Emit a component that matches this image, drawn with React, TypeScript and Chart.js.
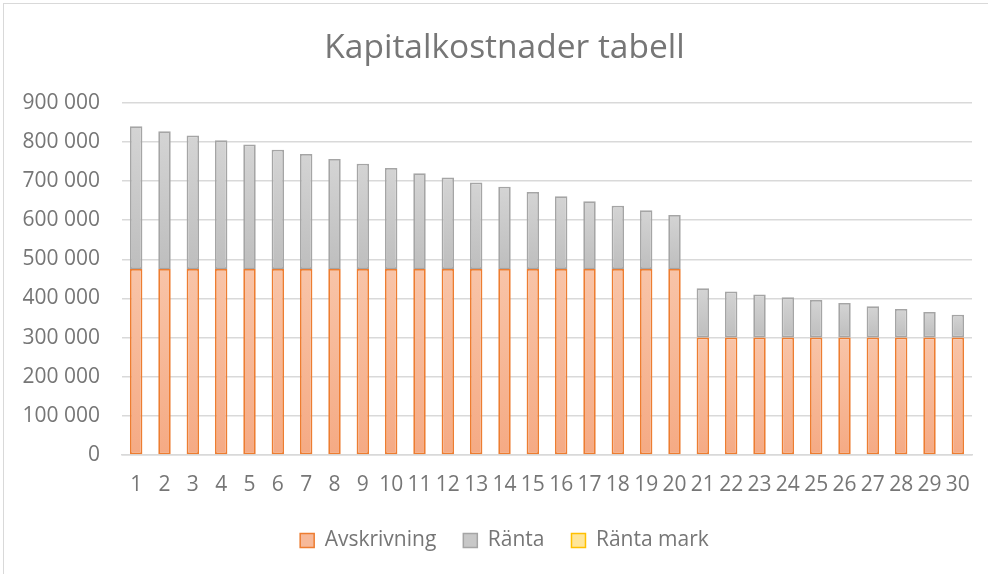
import React, { useEffect, useRef } from "react";
import { Chart, registerables } from "chart.js";

Chart.register(...registerables);

const categories = ["1","2","3","4","5","6","7","8","9","10","11","12","13","14","15","16","17","18","19","20","21","22","23","24","25","26","27","28","29","30"];

const avskrivning = [
  475000, 475000, 475000, 475000, 475000, 475000, 475000, 475000, 475000, 475000,
  475000, 475000, 475000, 475000, 475000, 475000, 475000, 475000, 475000, 475000,
  300000, 300000, 300000, 300000, 300000, 300000, 300000, 300000, 300000, 300000,
];

const ranta = [
  365000, 352000, 341000, 329000, 318000, 305000, 294000, 281000, 269000, 258000,
  245000, 234000, 221000, 210000, 197000, 186000, 173000, 162000, 150000, 138000,
  126000, 118000, 110000, 103000, 96000, 88000, 80000, 73000, 65000, 58000,
];

const rantaMark = [
  0, 0, 0, 0, 0, 0, 0, 0, 0, 0,
  0, 0, 0, 0, 0, 0, 0, 0, 0, 0,
  0, 0, 0, 0, 0, 0, 0, 0, 0, 0,
];

const seriesNames = ["Avskrivning", "Ränta", "Ränta mark"];
const titleText = "Kapitalkostnader tabell";

const FONT = "'Open Sans', sans-serif";
const TEXT = "#767676";
const legendFills = ["#F7B999", "#C8C8C8", "#FFE699"];
const legendBorders = ["#ED7D31", "#A5A5A5", "#FFC000"];

// The Excel chart frame is wider than the visible picture; the canvas is
// sized like the full frame and clipped by its container.
const CANVAS_W = 1009;
const CANVAS_H = 574;

function fmt(v: number): string {
  return String(v).replace(/\B(?=(\d{3})+(?!\d))/g, " ");
}

function gradFill(bases: number[], values: number[], top: string, bottom: string) {
  return (ctx: any) => {
    const chart = ctx.chart;
    const y = chart.scales && chart.scales.y;
    if (ctx.dataIndex === undefined || !y || !chart.chartArea) return top;
    const i = ctx.dataIndex;
    const y0 = y.getPixelForValue(bases[i]);
    const y1 = y.getPixelForValue(bases[i] + values[i]);
    if (!isFinite(y0) || !isFinite(y1) || y0 === y1) return top;
    const g = chart.ctx.createLinearGradient(0, y1, 0, y0);
    g.addColorStop(0, top);
    g.addColorStop(1, bottom);
    return g;
  };
}

export default function App() {
  const ref = useRef<HTMLCanvasElement | null>(null);

  useEffect(() => {
    if (!ref.current) return;
    const zeros = avskrivning.map(() => 0);
    const chart = new Chart(ref.current, {
      type: "bar",
      data: {
        labels: categories,
        datasets: [
          {
            label: seriesNames[0],
            data: avskrivning,
            backgroundColor: gradFill(zeros, avskrivning, "#F8C4A8", "#F5AA84"),
            borderColor: legendBorders[0],
            borderWidth: 1.75,
            borderSkipped: false,
            categoryPercentage: 0.44,
            barPercentage: 1,
          },
          {
            label: seriesNames[1],
            data: ranta,
            backgroundColor: gradFill(avskrivning, ranta, "#D4D4D4", "#BEBEBE"),
            borderColor: legendBorders[1],
            borderWidth: 1.75,
            borderSkipped: false,
            categoryPercentage: 0.44,
            barPercentage: 1,
          },
          {
            label: seriesNames[2],
            data: rantaMark,
            backgroundColor: legendFills[2],
            borderColor: legendBorders[2],
            borderWidth: (c: any) => (c.raw === 0 ? 0 : 1.75),
            borderSkipped: false,
            categoryPercentage: 0.44,
            barPercentage: 1,
          },
        ],
      },
      options: {
        responsive: false,
        animation: false,
        layout: { padding: { left: 0, right: 0, top: 0, bottom: 13 } },
        plugins: {
          title: {
            display: true,
            text: titleText,
            color: TEXT,
            font: { family: FONT, size: 33.5, weight: "normal" },
            padding: { top: 28.5, bottom: 34 },
          },
          legend: {
            position: "bottom",
            labels: {
              color: TEXT,
              font: { family: FONT, size: 21 },
              boxWidth: 14,
              boxHeight: 14,
              padding: 27,
              generateLabels: (ch: any) => {
                const items = Chart.defaults.plugins.legend.labels.generateLabels(ch);
                return items.map((it: any, i: number) => ({
                  ...it,
                  fillStyle: legendFills[i],
                  strokeStyle: legendBorders[i],
                  lineWidth: 1.5,
                  fontColor: TEXT,
                }));
              },
            },
          },
          tooltip: { enabled: false },
        },
        scales: {
          x: {
            stacked: true,
            grid: { display: false, drawTicks: false },
            border: { display: true, color: "#D9D9D9", width: 1.5 },
            ticks: {
              color: TEXT,
              font: { family: FONT, size: 21 },
              padding: 17,
              maxRotation: 0,
              autoSkip: false,
            },
            afterFit: (s: any) => {
              s.height = 48;
            },
          },
          y: {
            stacked: true,
            min: 0,
            max: 900000,
            grid: { color: "#D9D9D9", lineWidth: 1.5, drawTicks: false },
            border: { display: false },
            ticks: {
              stepSize: 100000,
              color: TEXT,
              font: { family: FONT, size: 21 },
              padding: 22,
              callback: (v: any) => fmt(Number(v)),
            },
            afterFit: (s: any) => {
              s.width = 122;
            },
          },
          yRightSpace: {
            axis: "y",
            position: "right",
            display: true,
            grid: { display: false, drawTicks: false },
            border: { display: false },
            ticks: { display: false },
            afterFit: (s: any) => {
              s.width = 37;
            },
          },
        },
      },
    });
    return () => chart.destroy();
  }, []);

  return (
    <div style={{ position: "absolute", left: 0, top: 0, width: 988, height: 574, overflow: "hidden", background: "#fff" }}>
      <div
        style={{
          position: "absolute",
          left: 3,
          top: 3,
          width: 1100,
          height: 700,
          borderLeft: "1.5px solid #D9D9D9",
          borderTop: "1.5px solid #D9D9D9",
        }}
      />
      <canvas
        ref={ref}
        width={CANVAS_W}
        height={CANVAS_H}
        style={{ position: "absolute", left: 0, top: 0, width: CANVAS_W, height: CANVAS_H }}
      />
    </div>
  );
}
